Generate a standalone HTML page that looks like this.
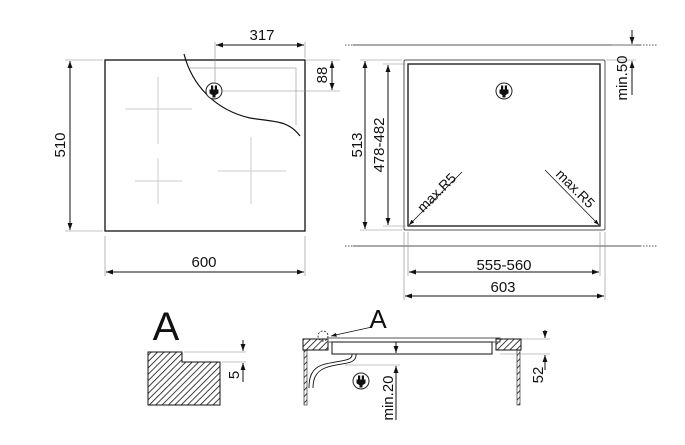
<!DOCTYPE html>
<html><head><style>body{margin:0;background:#fff}svg{display:block}text{font-family:"Liberation Sans",sans-serif;fill:#111}</style></head>
<body>
<svg width="685" height="445" viewBox="0 0 685 445" xmlns="http://www.w3.org/2000/svg">
<defs>
<marker id="a" viewBox="0 0 10 10" refX="10" refY="5" markerWidth="7" markerHeight="7" orient="auto-start-reverse"><path d="M0,1.5L10,5L0,8.5z" fill="#111"/></marker>
<pattern id="h" width="4.5" height="4.5" patternUnits="userSpaceOnUse" patternTransform="rotate(45)"><line x1="0" y1="0" x2="0" y2="4.5" stroke="#111" stroke-width="1.6"/></pattern>
<g id="plug"><circle r="8" fill="#fff" stroke="#222" stroke-width="1"/><rect x="-2.5" y="-5" width="1.2" height="4" fill="#111"/><rect x="1.3" y="-5" width="1.2" height="4" fill="#111"/><path d="M-4,-1H4V2L1,4V6H-1V4L-4,2z" fill="#111"/></g>
</defs>
<g stroke="#111" fill="none" stroke-width="1">
<rect x="105" y="60" width="200" height="171" stroke-width="1.3"/>
<path d="M190,68H296V125" stroke="#bbb"/>
<g stroke="#ccc"><path d="M125,109H192M158,77V144M135,181H182M158,158V204M218,171H286M251,137V204"/></g>
<path d="M184,54C192,85 215,110 250,118C275,122 288,120 300,136" stroke-width="1.2"/>
<use href="#plug" x="214" y="91"/>
<g stroke-width="0.6" stroke="#888"><path d="M215,42V84M305,42V58M222,91H340M305,60H340M65,60H103M65,231H103M105,236V276M305,236V276"/></g>
<line x1="216" y1="45" x2="304" y2="45" marker-start="url(#a)" marker-end="url(#a)"/>
<line x1="332" y1="61" x2="332" y2="90" marker-start="url(#a)" marker-end="url(#a)"/>
<line x1="70" y1="61" x2="70" y2="230" marker-start="url(#a)" marker-end="url(#a)"/>
<line x1="106" y1="272" x2="304" y2="272" marker-start="url(#a)" marker-end="url(#a)"/>
<path d="M353,45H640M353,246H640" stroke="#555"/>
<path d="M345,45H353M640,45H658M345,246H353M640,246H658" stroke="#555" stroke-dasharray="1.5,1.5"/>
<rect x="404" y="60" width="201" height="170" rx="1.5" stroke="#555"/>
<rect x="408" y="64" width="192" height="162" stroke-width="1.3"/>
<use href="#plug" x="504" y="91"/>
<g stroke-width="0.6" stroke="#888"><path d="M360,60H402M383,64H406M360,230H402M383,226H406M404,232V300M605,232V300M408,232V276M600,232V276M606,60H636M612,45H636"/></g>
<line x1="365" y1="61" x2="365" y2="229" marker-start="url(#a)" marker-end="url(#a)"/>
<line x1="388" y1="65" x2="388" y2="225" marker-start="url(#a)" marker-end="url(#a)"/>
<line x1="462" y1="172" x2="409" y2="225" stroke-width="0.8" marker-end="url(#a)"/>
<line x1="545" y1="170" x2="599" y2="225" stroke-width="0.8" marker-end="url(#a)"/>
<line x1="632" y1="30" x2="632" y2="44" marker-end="url(#a)"/>
<line x1="632" y1="95" x2="632" y2="61" marker-end="url(#a)"/>
<line x1="409" y1="272" x2="599" y2="272" marker-start="url(#a)" marker-end="url(#a)"/>
<line x1="405" y1="296" x2="604" y2="296" marker-start="url(#a)" marker-end="url(#a)"/>
<path d="M148,352H182V362H220V405H148z" fill="url(#h)" stroke-width="1"/>
<g stroke-width="0.6" stroke="#888"><path d="M184,352H246M222,362H246"/></g>
<line x1="243" y1="340" x2="243" y2="351" marker-end="url(#a)"/>
<line x1="243" y1="382" x2="243" y2="363" marker-end="url(#a)"/>
<rect x="303" y="339" width="25" height="11" fill="url(#h)"/>
<rect x="496" y="339" width="25" height="11" fill="url(#h)"/>
<rect x="304" y="350" width="3" height="55" fill="url(#h)" stroke-width="0.6"/>
<rect x="517" y="350" width="3" height="55" fill="url(#h)" stroke-width="0.6"/>
<rect x="328" y="338" width="172" height="4" stroke="#555"/>
<rect x="332" y="342" width="160" height="12"/>
<circle cx="323" cy="336" r="5" stroke-dasharray="2,1.5" stroke-width="0.8"/>
<line x1="372" y1="327" x2="331" y2="336" stroke-width="0.8" marker-end="url(#a)"/>
<path d="M356,354C357,366 340,362 325,368C315,372 313,380 313,388M352,354C353,362 338,360 322,365C311,369 309,378 309,388" stroke-width="0.9"/>
<g stroke-width="0.6" stroke="#888"><path d="M345,365H400M521,339H550M500,354H550"/></g>
<line x1="396" y1="342" x2="396" y2="353" marker-end="url(#a)"/>
<line x1="396" y1="420" x2="396" y2="366" marker-end="url(#a)"/>
<line x1="545" y1="330" x2="545" y2="338" marker-end="url(#a)"/>
<line x1="545" y1="370" x2="545" y2="355" marker-end="url(#a)"/>
<use href="#plug" x="361" y="381"/>
</g>
<g font-size="15">
<text x="262" y="40" text-anchor="middle">317</text>
<text transform="translate(327,75) rotate(-90)" text-anchor="middle">88</text>
<text transform="translate(65,145) rotate(-90)" text-anchor="middle">510</text>
<text x="204" y="267" text-anchor="middle">600</text>
<text transform="translate(362,145) rotate(-90)" text-anchor="middle">513</text>
<text transform="translate(384,145) rotate(-90)" text-anchor="middle">478-482</text>
<text transform="translate(440,196) rotate(-45)" text-anchor="middle" font-size="14">max.R5</text>
<text transform="translate(572,192) rotate(45)" text-anchor="middle" font-size="14">max.R5</text>
<text transform="translate(627,78) rotate(-90)" text-anchor="middle">min.50</text>
<text x="504" y="270" text-anchor="middle">555-560</text>
<text x="503" y="292" text-anchor="middle">603</text>
<text transform="translate(239,375) rotate(-90)" text-anchor="middle">5</text>
<text transform="translate(393,398) rotate(-90)" text-anchor="middle">min.20</text>
<text transform="translate(543,375) rotate(-90)" text-anchor="middle">52</text>
<text x="166" y="340" text-anchor="middle" font-size="40">A</text>
<text x="378" y="328" text-anchor="middle" font-size="26">A</text>
</g>
</svg>
</body></html>
